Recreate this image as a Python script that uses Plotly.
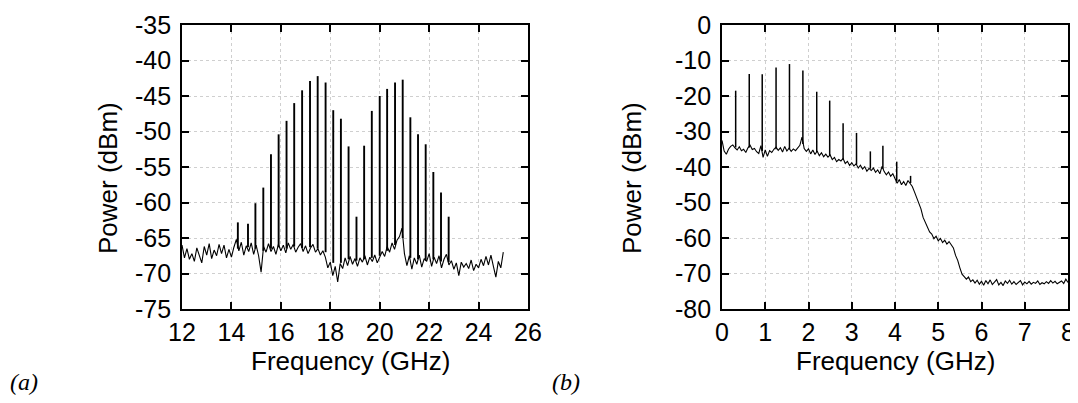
import numpy as np
import plotly.graph_objects as go

# ---------------- Panel (a) data ----------------
noise_a_start = 12.0
noise_a_step = 0.1
noise_a_power = [
    -66.0, -67.8, -66.5, -68.0, -67.2, -68.3, -66.4, -67.6, -68.5, -66.2,
    -67.4, -65.8, -67.9, -66.7, -67.5, -65.9, -67.2, -66.0, -67.8, -66.6,
    -67.7, -66.3, -65.2, -66.8, -65.6, -67.4, -66.1, -66.9, -65.7, -67.3,
    -66.0, -67.5, -69.8, -66.2, -67.0, -65.8, -66.9, -66.2, -67.3, -65.9,
    -66.8, -66.0, -67.1, -65.7, -66.6, -65.9, -67.0, -66.3, -65.8, -66.9,
    -66.1, -67.2, -66.4, -65.9, -67.0, -66.5, -67.4, -66.8, -67.7, -69.2,
    -68.4, -70.3, -69.0, -71.2, -68.6, -69.3, -67.8, -68.9, -67.6, -68.7,
    -67.9, -69.0, -67.8, -68.4, -67.5, -68.8, -67.7, -68.3, -67.4, -68.5,
    -67.8, -66.9, -67.6, -66.2, -67.0, -65.7, -66.6, -65.3, -64.8, -63.6,
    -67.2, -68.9, -67.5, -69.4, -67.8, -68.7, -67.4, -69.1, -67.9, -68.3,
    -67.2, -69.0, -67.7, -68.6, -67.5, -69.2, -68.0, -67.3, -68.8, -68.2,
    -69.4, -68.5, -70.3, -68.4, -69.1, -68.6, -69.3, -68.1, -69.6, -68.7,
    -69.2, -68.0, -68.9, -67.6, -68.8, -67.4, -69.0, -70.5, -68.3, -69.2,
    -67.0,
]
peak_a_freq = [14.26, 14.67, 14.97, 15.29, 15.60, 15.91, 16.23, 16.54, 16.86, 17.18,
               17.49, 17.81, 18.12, 18.43, 18.74, 19.06, 19.37, 19.68, 20.00, 20.30,
               20.62, 20.93, 21.24, 21.55, 21.86, 22.17, 22.48, 22.79]
peak_a_top = [-62.8, -63.0, -60.1, -57.9, -53.2, -50.4, -48.5, -46.0, -44.2, -42.9,
              -42.2, -43.1, -47.0, -48.2, -52.1, -62.0, -52.0, -47.1, -45.0, -44.0,
              -43.1, -42.7, -48.0, -50.4, -51.8, -55.7, -58.6, -62.0]
peak_a_base = [-66.5, -66.3, -66.5, -66.8, -66.5, -66.3, -66.5, -66.2, -66.4, -66.3,
               -66.5, -67.0, -68.5, -68.5, -68.0, -68.2, -68.0, -67.8, -67.5, -66.8,
               -66.0, -65.0, -67.8, -68.0, -68.2, -68.0, -68.3, -68.4]

# ---------------- Panel (b) data ----------------
noise_b_start = 0.0
noise_b_step = 0.05
noise_b_power = [
    -32.5, -35.5, -36.4, -35.0, -34.2, -33.8, -34.6, -35.2, -34.3, -35.4,
    -35.0, -35.9, -34.6, -33.9, -35.1, -34.8, -35.7, -36.2, -34.0, -37.3,
    -35.2, -37.0, -35.4, -35.9, -35.0, -34.4, -35.3, -34.6, -35.8, -34.2,
    -35.5, -34.7, -35.6, -34.9, -35.4, -34.6, -33.9, -31.6, -34.8, -35.6,
    -34.9, -36.3, -35.2, -36.5, -35.5, -36.8, -36.0, -37.1, -36.4, -37.2,
    -36.6, -37.9, -37.3, -38.5, -37.9, -38.3, -37.6, -39.0, -38.4, -39.6,
    -38.8, -39.7, -39.1, -40.3, -39.5, -40.6, -39.9, -41.2, -40.4, -41.0,
    -40.3, -41.5, -40.8, -41.9, -39.8, -41.3, -42.2, -41.4, -42.6, -41.9,
    -43.2, -44.6, -43.5, -45.0, -44.1, -45.2, -43.8, -44.7, -45.5, -47.0,
    -48.6, -50.4, -51.8, -54.2, -55.6, -56.8, -58.3, -58.9, -60.2, -59.5,
    -60.8, -60.1, -61.3, -60.6, -61.7, -61.0, -62.0, -62.8, -64.9, -66.3,
    -68.4, -70.2, -70.9, -71.6, -71.0, -72.3, -71.8, -72.7, -71.9, -73.0,
    -72.2, -73.3, -72.0, -72.9, -71.8, -73.1, -72.4, -71.7, -73.2, -72.5,
    -73.4, -72.1, -72.8, -71.9, -73.0, -72.3, -73.1, -72.6, -72.0, -73.2,
    -72.4, -72.9, -72.2, -73.0, -72.5, -72.8, -72.1, -73.1, -72.6, -72.9,
    -72.3, -72.8, -72.0, -72.7, -72.2, -72.9, -72.4, -72.1, -72.8, -71.6,
    -72.5,
]
peak_b_freq = [0.316, 0.63, 0.93, 1.25, 1.56, 1.87, 2.19, 2.49, 2.80, 3.11,
               3.43, 3.72, 4.04, 4.36]
peak_b_top = [-18.5, -13.8, -13.9, -12.0, -11.0, -12.8, -18.8, -21.3, -27.7, -30.4,
              -35.6, -34.0, -38.5, -42.5]
peak_b_base = [-34.5, -34.5, -35.5, -35.0, -35.0, -33.5, -35.8, -36.8, -38.0, -39.3,
               -40.5, -40.5, -44.0, -44.5]

# tick values
xticks_a = [12, 14, 16, 18, 20, 22, 24, 26]
yticks_a = [-75, -70, -65, -60, -55, -50, -45, -40, -35]
xticks_b = [0, 1, 2, 3, 4, 5, 6, 7, 8]
yticks_b = [-80, -70, -60, -50, -40, -30, -20, -10, 0]

# the page body adds an 8 px offset; the figure is sized to fit the window
OFF = 8
W, H = 1078 - OFF, 403 - OFF


def px(x):
    return (x - OFF) / W


def py(y):
    return 1 - (y - OFF) / H


def spikes(freqs, bases, tops):
    xs, ys = [], []
    for f, b, t in zip(freqs, bases, tops):
        xs += [f, f, None]
        ys += [b, t, None]
    return xs, ys


fig = go.Figure()

fa = noise_a_start + noise_a_step * np.arange(len(noise_a_power))
fb = noise_b_start + noise_b_step * np.arange(len(noise_b_power))

fig.add_trace(go.Scatter(x=fa, y=noise_a_power, mode="lines",
                         line=dict(color="black", width=1.1),
                         xaxis="x", yaxis="y", showlegend=False))
sx, sy = spikes(peak_a_freq, peak_a_base, peak_a_top)
fig.add_trace(go.Scatter(x=sx, y=sy, mode="lines",
                         line=dict(color="black", width=1.9),
                         xaxis="x", yaxis="y", showlegend=False))

fig.add_trace(go.Scatter(x=fb, y=noise_b_power, mode="lines",
                         line=dict(color="black", width=1.1),
                         xaxis="x2", yaxis="y2", showlegend=False))
sx, sy = spikes(peak_b_freq, peak_b_base, peak_b_top)
fig.add_trace(go.Scatter(x=sx, y=sy, mode="lines",
                         line=dict(color="black", width=1.5),
                         xaxis="x2", yaxis="y2", showlegend=False))

tickfont = dict(family="Liberation Sans, Arial", size=25, color="black")
common = dict(showline=True, linecolor="black", linewidth=1.6, mirror="ticks",
              ticks="inside", ticklen=7, tickwidth=1.6, tickcolor="black",
              showgrid=True, gridcolor="#cfcfcf", griddash="dot", gridwidth=1,
              zeroline=False, tickfont=tickfont, automargin=False)


def labels(vals):
    return [str(v) for v in vals]


yd = [py(309), py(25)]
fig.update_layout(
    width=W, height=H,
    margin=dict(l=0, r=0, t=0, b=0, autoexpand=False),
    paper_bgcolor="white", plot_bgcolor="white",
    xaxis=dict(domain=[px(182), px(528)], range=[12, 26], tickvals=xticks_a,
               ticktext=labels(xticks_a), anchor="y", ticklabelstandoff=0, **common),
    yaxis=dict(domain=yd, range=[-75, -35], tickvals=yticks_a,
               ticktext=labels(yticks_a), anchor="x", ticklabelstandoff=4, **common),
    xaxis2=dict(domain=[px(722), px(1068)], range=[0, 8], tickvals=xticks_b,
                ticktext=labels(xticks_b), anchor="y2", ticklabelstandoff=0, **common),
    yaxis2=dict(domain=yd, range=[-80, 0], tickvals=yticks_b,
                ticktext=labels(yticks_b), anchor="x2", ticklabelstandoff=4, **common),
)

titlefont = dict(family="Liberation Sans, Arial", size=26, color="black")
labfont = dict(family="Liberation Serif, Times New Roman", size=24, color="black")
ann = [
    dict(x=px(350), y=py(361), text="Frequency (GHz)", font=titlefont),
    dict(x=px(895), y=py(361), text="Frequency (GHz)", font=titlefont),
    dict(x=px(108), y=py(178), text="Power (dBm)", font=titlefont, textangle=-90),
    dict(x=px(632), y=py(178), text="Power (dBm)", font=titlefont, textangle=-90),
    dict(x=px(24), y=py(382), text="<i>(a)</i>", font=labfont),
    dict(x=px(566), y=py(382), text="<i>(b)</i>", font=labfont),
]
for a in ann:
    a.update(xref="paper", yref="paper", showarrow=False, xanchor="center", yanchor="middle")
fig.update_layout(annotations=ann)

fig.write_html("out.html")
